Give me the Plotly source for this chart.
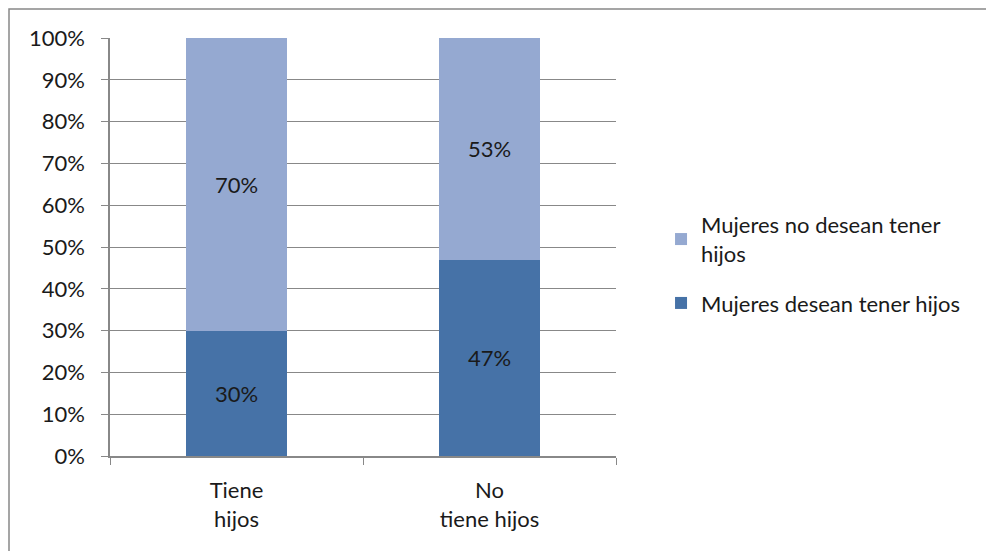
import plotly.graph_objects as go

categories = ["Tiene hijos", "No tiene hijos"]
tick_labels = ["Tiene<br>hijos", "No<br>tiene hijos"]
desean = [30, 47]
no_desean = [70, 53]
series_names = ["Mujeres desean tener hijos", "Mujeres no desean tener<br>hijos"]
y_ticks = [0, 10, 20, 30, 40, 50, 60, 70, 80, 90, 100]

FONT = "Lato"
FS = 22
GRID = "#888888"

fig = go.Figure()
fig.add_trace(go.Bar(
    x=categories, y=desean, name=series_names[0], legendgroup="b", legendrank=2,
    marker=dict(color="#4672A7", line=dict(width=0)),
    text=[f"{v}%" for v in desean], textposition="inside",
    insidetextanchor="middle", textfont=dict(color="#1a1a1a", size=FS, family=FONT),
    width=0.4,
))
fig.add_trace(go.Bar(
    x=categories, y=no_desean, name=series_names[1], legendgroup="a", legendrank=1,
    marker=dict(color="#95A9D1", line=dict(width=0)),
    text=[f"{v}%" for v in no_desean], textposition="inside",
    insidetextanchor="middle", textfont=dict(color="#1a1a1a", size=FS, family=FONT),
    width=0.4,
))

L, T, R, B = 102, 30, 386, 103
PW, PH = 994 - L - R, 551 - T - B

fig.update_layout(
    barmode="stack",
    width=994, height=551,
    margin=dict(l=L, r=R, t=T, b=B),
    paper_bgcolor="white", plot_bgcolor="white",
    font=dict(family=FONT, size=FS, color="#1a1a1a"),
    uniformtext=dict(mode="show", minsize=FS),
    legend=dict(
        x=1.089, y=0.603, xanchor="left", yanchor="top",
        traceorder="grouped", tracegroupgap=18,
        font=dict(size=FS, family=FONT),
        itemwidth=30,
    ),
    showlegend=True,
)
fig.update_xaxes(
    type="category",
    tickvals=categories, ticktext=tick_labels,
    showline=True, linecolor=GRID, linewidth=1.5,
    ticks="outside", tickson="boundaries", ticklen=7, tickcolor=GRID,
    showgrid=False, ticklabelstandoff=14,
)
fig.update_yaxes(
    range=[0, 100],
    tickvals=y_ticks, ticktext=[f"{v}%" for v in y_ticks],
    showline=True, linecolor=GRID, linewidth=1.5,
    ticks="outside", ticklen=7, tickcolor=GRID,
    showgrid=True, gridcolor=GRID, gridwidth=1.2,
    zeroline=False, ticklabelstandoff=12,
)
fig.add_shape(
    type="rect", xref="paper", yref="paper",
    x0=(1 - L) / PW, x1=(1010 - L) / PW,
    y0=(T + PH - 570) / PH, y1=(T + PH - 1) / PH,
    line=dict(color=GRID, width=1.5), fillcolor="rgba(0,0,0,0)", layer="below",
)
fig.write_html("out.html")
